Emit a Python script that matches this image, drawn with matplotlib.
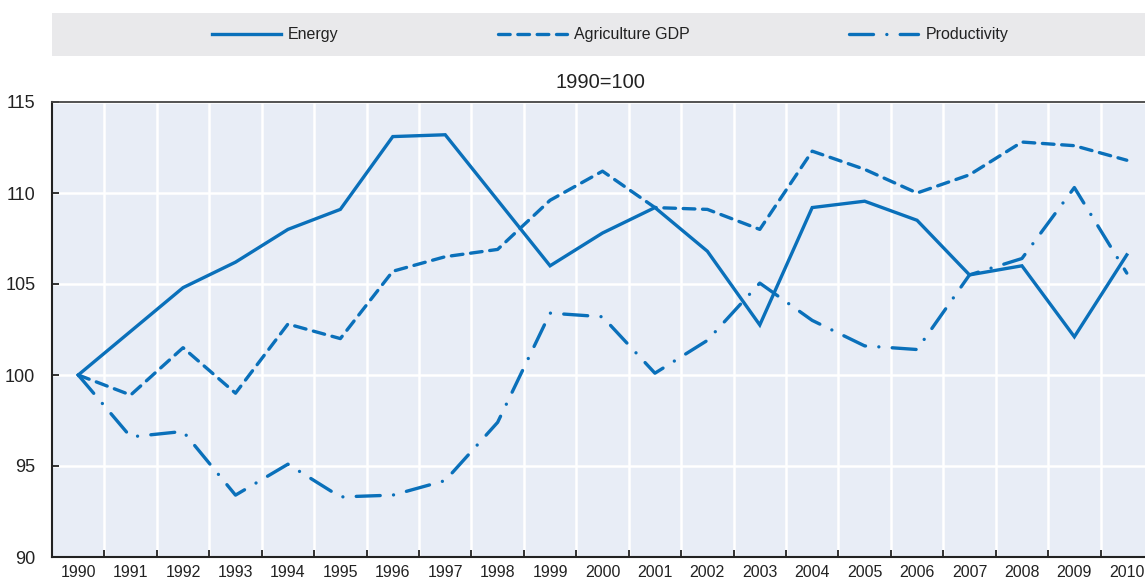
import numpy as np
import matplotlib
matplotlib.use("Agg")
import matplotlib.pyplot as plt
from matplotlib.patches import Rectangle
from matplotlib.ticker import FixedLocator

# Data (index, 1990=100)
years = [str(y) for y in range(1990, 2011)]
energy = [100.0, 102.4, 104.8, 106.2, 108.0, 109.1, 113.1, 113.2, 109.6, 106.0, 107.8,
          109.2, 106.8, 102.75, 109.2, 109.55, 108.5, 105.5, 106.0, 102.1, 106.6]
agri_gdp = [100.0, 98.9, 101.5, 99.0, 102.8, 102.0, 105.7, 106.5, 106.9, 109.6, 111.2,
            109.2, 109.1, 108.0, 112.3, 111.3, 110.0, 111.0, 112.8, 112.6, 111.8]
productivity = [100.0, 96.6, 96.9, 93.4, 95.1, 93.3, 93.4, 94.2, 97.4, 103.4, 103.2,
                100.1, 101.9, 105.05, 103.0, 101.6, 101.4, 105.5, 106.4, 110.3, 105.6]

LINE_COLOR = "#0A70BA"
AX_BG = "#E8EDF6"
LEGEND_BG = "#E9E9EB"
TEXT_COLOR = "#222222"
FONT = ["Liberation Sans Narrow", "Liberation Sans", "DejaVu Sans"]

plt.rcParams["font.family"] = FONT

W, H = 1145, 581
fig = plt.figure(figsize=(W / 100, H / 100), dpi=100)

# axes extends slightly past the right edge, like the reference
left, right, bottom, top = 52, 1153, 557, 102
ax = fig.add_axes([left / W, 1 - bottom / H, (right - left) / W, (bottom - top) / H])
ax.set_facecolor(AX_BG)

x = np.arange(len(years))
lw = 2.4
ax.plot(x, energy, color=LINE_COLOR, lw=lw, solid_joinstyle="miter",
        label="Energy", zorder=3)
ax.plot(x, agri_gdp, color=LINE_COLOR, lw=lw, dashes=(3.5, 2.3),
        dash_capstyle="round", label="Agriculture GDP", zorder=3)
ax.plot(x, productivity, color=LINE_COLOR, lw=lw, dashes=(7.2, 4.0, 0.01, 4.0),
        dash_capstyle="round", label="Productivity", zorder=3)

ax.set_xlim(-0.5, len(years) - 0.5)
ax.set_ylim(90, 115)
ax.set_yticks([90, 95, 100, 105, 110, 115])
ax.set_xticks(x)
ax.set_xticklabels(years)
ax.xaxis.set_minor_locator(FixedLocator(np.arange(0.5, len(years) - 0.5, 1)))

ax.tick_params(axis="x", which="major", length=0, pad=6, labelsize=11.5,
               labelcolor=TEXT_COLOR)
ax.tick_params(axis="x", which="minor", direction="in", length=5, width=1.3,
               color="#222222")
ax.tick_params(axis="y", direction="in", length=5, width=1.3, pad=12,
               labelsize=13, labelcolor=TEXT_COLOR, color="#222222")

ax.grid(True, axis="y", which="major", color="white", lw=1.8, zorder=1)
ax.grid(True, axis="x", which="minor", color="white", lw=1.8, zorder=1)
ax.set_axisbelow(True)

for side in ["left", "bottom"]:
    ax.spines[side].set_color("#222222")
    ax.spines[side].set_linewidth(1.5)
ax.spines["top"].set_color("#444444")
ax.spines["top"].set_linewidth(1.3)
ax.spines["right"].set_visible(False)

fig.text(600 / W, 1 - 83 / H, "1990=100", ha="center", va="center",
         fontsize=14.5, color=TEXT_COLOR)

# legend band
fig.patches.append(Rectangle((52 / W, 1 - 56 / H), (W - 52) / W, 43 / H,
                             transform=fig.transFigure, facecolor=LEGEND_BG,
                             edgecolor="none", zorder=0))
handles, labels = ax.get_legend_handles_labels()
fig.legend(handles, labels, loc="center", bbox_to_anchor=(610 / W, 1 - 35 / H),
           ncol=3, frameon=False, fontsize=11.5, handlelength=4.3,
           handletextpad=0.45, columnspacing=10.0, labelcolor=TEXT_COLOR)

fig.savefig("out.png", dpi=100)
